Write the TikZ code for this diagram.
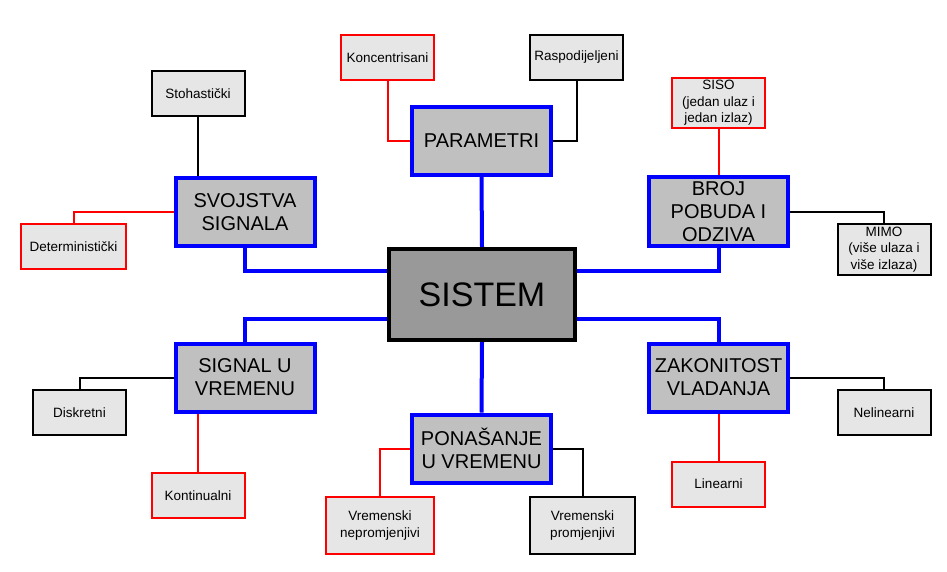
\documentclass[tikz,border=0pt]{standalone}
\usepackage{fontspec}
\setmainfont{Liberation Sans}
\definecolor{velika}{HTML}{C0C0C0}
\definecolor{mala}{HTML}{E6E6E6}
\definecolor{sistemboja}{HTML}{999999}
\begin{document}
\begin{tikzpicture}[x=1pt,y=-1pt]
\tikzstyle{glavni}=[draw=blue, line width=4pt, fill=velika, inner sep=0pt, align=center, minimum width=139pt, minimum height=68pt, font=\fontsize{20}{23}\selectfont]
\tikzstyle{crveni}=[draw=red, line width=2pt, fill=mala, inner sep=0pt, align=center, minimum width=93pt, minimum height=45pt, font=\fontsize{13.5}{16.5}\selectfont]
\tikzstyle{crni}=[crveni, draw=black]
\tikzstyle{plava}=[blue, line width=4pt]
\tikzstyle{tanka}=[line width=2pt]
\useasboundingbox (0,0) rectangle (947,571);
% sredina
\node[draw=black, line width=4pt, fill=sistemboja, inner sep=0pt, minimum width=186pt, minimum height=91pt, font=\fontsize{34}{40}\selectfont] (sistem) at (482,294.5) {SISTEM};
% glavne grane
\node[glavni] (param) at (481.5,140.5) {PARAMETRI};
\node[glavni] (svojstva) at (245,212) {SVOJSTVA\\SIGNALA};
\node[glavni, minimum height=69pt] (broj) at (718.5,211.5) {BROJ\\POBUDA I\\ODZIVA};
\node[glavni] (signal) at (245,377.5) {SIGNAL U\\VREMENU};
\node[glavni] (ponas) at (481.5,448.5) {PONAŠANJE\\U VREMENU};
\node[glavni] (zakon) at (718.5,377.5) {ZAKONITOST\\VLADANJA};
% podjele
\node[crveni] (konc) at (387.5,57.5) {Koncentrisani};
\node[crni] (rasp) at (576.5,57.5) {Raspodijeljeni};
\node[crni] (stoh) at (198,93.5) {Stohastički};
\node[crveni, minimum width=105pt] (det) at (73.5,246.5) {Deterministički};
\node[crveni, minimum height=50pt] (siso) at (718.5,103) {SISO\\(jedan ulaz i\\jedan izlaz)};
\node[crni, minimum height=51pt] (mimo) at (884,249.5) {MIMO\\(više ulaza i\\više izlaza)};
\node[crni] (disk) at (79.5,412.5) {Diskretni};
\node[crveni] (kont) at (198,495.5) {Kontinualni};
\node[crveni, minimum width=108pt, minimum height=57pt] (nepr) at (380,525.5) {Vremenski\\nepromjenjivi};
\node[crni, minimum width=105pt, minimum height=57pt] (prom) at (582.5,525.5) {Vremenski\\promjenjivi};
\node[crveni] (lin) at (718.5,484) {Linearni};
\node[crni] (nelin) at (884,412.5) {Nelinearni};
% veze
\draw[plava] (param.south) -- (sistem.north);
\draw[plava] (svojstva.south) |- ([yshift=24pt]sistem.west);
\draw[plava] (broj.south) |- ([yshift=24pt]sistem.east);
\draw[plava] (signal.north) |- ([yshift=-24pt]sistem.west);
\draw[plava] (zakon.north) |- ([yshift=-24pt]sistem.east);
\draw[plava] (sistem.south) -- (ponas.north);
\draw[tanka, red] (konc.south) |- (param.west);
\draw[tanka] (rasp.south) |- (param.east);
\draw[tanka] (stoh.south) -- (stoh.south |- svojstva.north);
\draw[tanka, red] (det.north) |- (svojstva.west);
\draw[tanka, red] (siso.south) -- (broj.north);
\draw[tanka] (broj.east) -| (mimo.north);
\draw[tanka] (disk.north) |- (signal.west);
\draw[tanka, red] (kont.north) -- (kont.north |- signal.south);
\draw[tanka, red] (nepr.north) |- (ponas.west);
\draw[tanka] (prom.north) |- (ponas.east);
\draw[tanka, red] (lin.north) -- (zakon.south);
\draw[tanka] (zakon.east) -| (nelin.north);
\end{tikzpicture}
\end{document}
